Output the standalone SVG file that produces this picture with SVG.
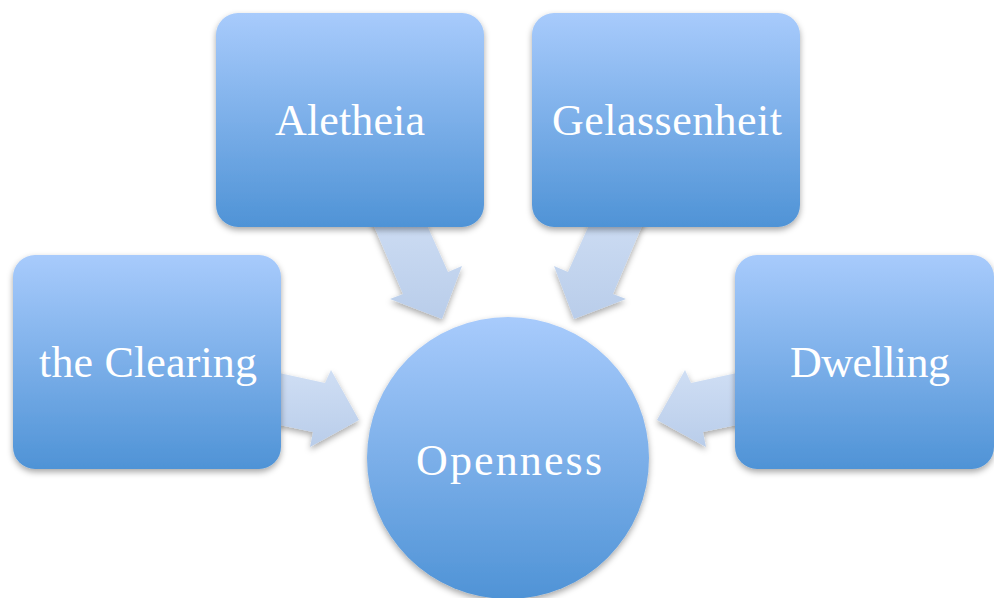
<svg xmlns="http://www.w3.org/2000/svg" width="994" height="598" viewBox="0 0 994 598">
<defs>
<linearGradient id="g" x1="0" y1="0" x2="0" y2="1">
<stop offset="0" stop-color="#a8cbfc"/>
<stop offset="1" stop-color="#4f93d6"/>
</linearGradient>
<linearGradient id="ga" x1="0" y1="0" x2="0" y2="1">
<stop offset="0" stop-color="#cfdef4"/>
<stop offset="1" stop-color="#b9cdea"/>
</linearGradient>
<filter id="sh" x="-20%" y="-20%" width="140%" height="140%">
<feDropShadow dx="0" dy="3" stdDeviation="3" flood-color="#000" flood-opacity="0.35"/>
</filter>
</defs>
<style>
.n{fill:url(#g);filter:url(#sh)}
.a{fill:url(#ga);filter:url(#sh)}
.t{font-family:"Liberation Serif","DejaVu Serif",serif;font-size:44px;fill:#fff;text-anchor:middle}
</style>
<g id="connectors">
<polygon class="a" points="365,205 418,205 448,272 462,266 442,319 390,299 403,294"/>
<polygon class="a" points="651,205 598,205 568,272 554,266 574,319 626,299 613,294"/>
<polygon class="a" points="270,371 325,383 331,370 359,420 310,447 313,432 270,423"/>
<polygon class="a" points="746,371 691,383 685,370 657,420 706,447 703,432 746,423"/>
</g>
<g id="aletheia"><rect class="n" x="216" y="13" width="268" height="214" rx="22"/><text class="t" x="350" y="135" textLength="150" lengthAdjust="spacing">Aletheia</text></g>
<g id="gelassenheit"><rect class="n" x="532" y="13" width="268" height="214" rx="22"/><text class="t" x="667" y="135" textLength="230" lengthAdjust="spacing">Gelassenheit</text></g>
<g id="clearing"><rect class="n" x="13" y="255" width="268" height="214" rx="22"/><text class="t" x="148" y="377" textLength="218" lengthAdjust="spacing">the Clearing</text></g>
<g id="dwelling"><rect class="n" x="735" y="255" width="259" height="214" rx="22"/><text class="t" x="870" y="377" textLength="160" lengthAdjust="spacing">Dwelling</text></g>
<g id="openness"><circle class="n" cx="508" cy="458" r="141"/><text class="t" x="509" y="475" textLength="186" lengthAdjust="spacing">Openness</text></g>
</svg>
